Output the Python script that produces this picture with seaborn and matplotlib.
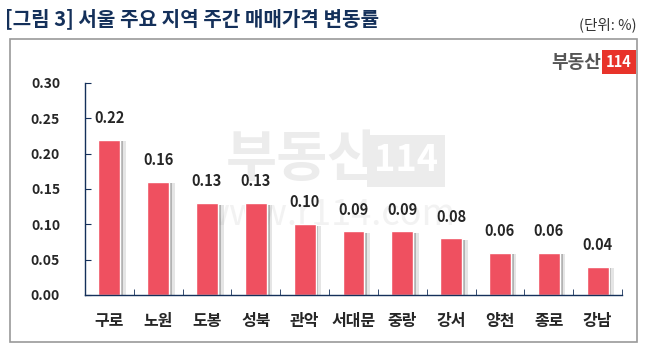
import numpy as np
import pandas as pd
import matplotlib
matplotlib.use("Agg")
import matplotlib.pyplot as plt
import matplotlib.patheffects as pe
from matplotlib.patches import Rectangle
import seaborn as sns

# data
regions = ["구로", "노원", "도봉", "성북", "관악", "서대문", "중랑", "강서", "양천", "종로", "강남"]
changes = [0.22, 0.16, 0.13, 0.13, 0.10, 0.09, 0.09, 0.08, 0.06, 0.06, 0.04]
yticks = [0.00, 0.05, 0.10, 0.15, 0.20, 0.25, 0.30]

title = "[그림 3] 서울 주요 지역 주간 매매가격 변동률"
unit = "(단위: %)"

sns.set_style("white")
plt.rcParams['font.family'] = ['Noto Sans CJK KR', 'DejaVu Sans']

navy = "#14305a"
bar_red = "#ef5060"

df = pd.DataFrame({"region": regions, "change": changes})

fig = plt.figure(figsize=(6.45, 3.62), dpi=100)

# outer frame
fig.patches.append(Rectangle((10 / 645, 1 - 342 / 362), 627 / 645, 303 / 362,
                             transform=fig.transFigure, fill=False,
                             edgecolor="#999999", linewidth=1.2))

fig.text(5 / 645, 1 - 19 / 362, title, fontsize=14.5, fontweight="bold",
         color=navy, va="center", ha="left")
fig.text(637 / 645, 1 - 25 / 362, unit, fontsize=10.5, color="#333333",
         va="center", ha="right")

# watermark (behind the axes)
fig.text(302 / 645, 1 - 160 / 362, "부동산", fontsize=40, fontweight="bold",
         color="#ececec", ha="center", va="center", zorder=-2)
fig.text(406 / 645, 1 - 161 / 362, "114", fontsize=26, fontweight="bold",
         color="white", ha="center", va="center", zorder=-1,
         bbox=dict(boxstyle="square,pad=0.2", fc="#ececec", ec="none"))
fig.text(328 / 645, 1 - 215 / 362, "www.r114.com", fontsize=26,
         color="#f2f2f2", ha="center", va="center", zorder=-2)

# logo
fig.text(601 / 645, 1 - 62 / 362, "부동산", fontsize=13, fontweight="bold",
         color="#555555", ha="right", va="center")
fig.text(619 / 645, 1 - 62 / 362, "114", fontsize=10.5, fontweight="bold",
         color="white", ha="center", va="center",
         bbox=dict(boxstyle="square,pad=0.25", fc="#e8332a", ec="none"))

ax = fig.add_axes([85 / 645, 1 - 295 / 362, 537 / 645, 212 / 362])
ax.patch.set_alpha(0)
sns.barplot(data=df, x="region", y="change", color=bar_red, width=0.45,
            saturation=1, ax=ax)

for bar, v in zip(ax.patches, changes):
    bar.set_path_effects([pe.SimplePatchShadow(offset=(4, -1), shadow_rgbFace="#999999", alpha=0.25),
                          pe.SimplePatchShadow(offset=(2, -1), shadow_rgbFace="#666666", alpha=0.4),
                          pe.Normal()])
    ax.annotate(f"{v:.2f}", (bar.get_x() + bar.get_width() / 2, v),
                xytext=(0, 10), textcoords="offset points", ha="center",
                va="bottom", fontsize=10.5, fontweight="bold")

ax.set_ylim(0, 0.30)
ax.set_xlim(-0.5, len(regions) - 0.5)
ax.set_yticks(yticks)
ax.set_yticklabels([f"{t:.2f}" for t in yticks], fontsize=10, fontweight="bold")
ax.tick_params(axis="y", direction="in", length=4, color=navy, pad=18, left=True)

ax.set_xticks(np.arange(len(regions)))
ax.set_xticklabels(regions, fontsize=11.5, fontweight="bold")
ax.tick_params(axis="x", length=0, pad=13)
ax.set_xticks(np.arange(len(regions) + 1) - 0.5, minor=True)
ax.tick_params(axis="x", which="minor", direction="in", length=4, color=navy, bottom=True)

ax.set_xlabel("")
ax.set_ylabel("")
for s in ["top", "right"]:
    ax.spines[s].set_visible(False)
for s in ["left", "bottom"]:
    ax.spines[s].set_color(navy)
    ax.spines[s].set_linewidth(1)

fig.savefig("out.png", dpi=100)
